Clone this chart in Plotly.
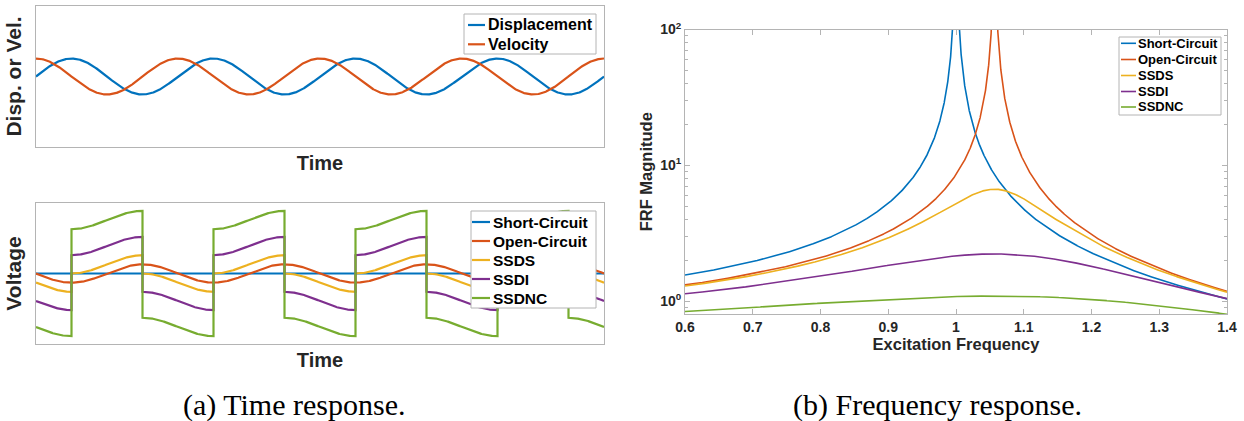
import numpy as np
import plotly.graph_objects as go

W, H = 1244, 421

# ---------------- data ----------------
motion_names = ["Displacement", "Velocity"]
motion_phase = [0.0, 0.5 * np.pi]          # displacement ~ sin, velocity ~ cos
n_cycles = 4

voltage_names = ["Short-Circuit", "Open-Circuit", "SSDS", "SSDI", "SSDNC"]
voltage_open_gain = [0.0, 1.0, 1.0, 1.0, 1.0]      # piezo voltage following displacement
voltage_switch_level = [0.0, 0.0, 1.0, 3.0, 5.84]  # square-wave step added by switching

frf_names = voltage_names
frf_coupling = 0.117
frf_stiffness_gain = [0.0, 1.0, 1.0, 1.0, 1.0]
frf_loss_gain = [0.0, 0.0, 1.27, 3.82, 7.8]
frf_base_damping = 0.001
freq_min, freq_max = 0.6, 1.4

freq_ticks = [0.6, 0.7, 0.8, 0.9, 1.0, 1.1, 1.2, 1.3, 1.4]
freq_tick_text = ["0.6", "0.7", "0.8", "0.9", "1", "1.1", "1.2", "1.3", "1.4"]
mag_ticks = [1, 10, 100]
mag_tick_text = ["10<sup>0</sup>", "10<sup>1</sup>", "10<sup>2</sup>"]
mag_minor = [0.9, 2, 3, 4, 5, 6, 7, 8, 9, 20, 30, 40, 50, 60, 70, 80, 90]

captions = ["(a) Time response.", "(b) Frequency response."]

# ---------------- styles ----------------
colors = ["#0072BD", "#D95319", "#EDB120", "#7E2F8E", "#77AC30"]
frame = "#b4b4b4"
txt = "#262626"
SANS = "Liberation Sans"
SERIF = "Liberation Serif"

fig = go.Figure()

# ---- (a) top: displacement / velocity ----
t_end = 2 * np.pi * n_cycles
t = np.linspace(0, t_end, 2000)
for i, name in enumerate(motion_names):
    fig.add_trace(go.Scatter(x=t, y=np.sin(t + motion_phase[i]), mode="lines", name=name,
                             line=dict(color=colors[i], width=2.2), showlegend=False,
                             xaxis="x", yaxis="y"))

# ---- (a) bottom: voltages with switching at displacement extrema ----
bounds = [0.0] + list(np.pi / 2 + np.pi * np.arange(0, 2 * n_cycles)) + [t_end]
for i, name in enumerate(voltage_names):
    xs, ys = [], []
    for a, b in zip(bounds[:-1], bounds[1:]):
        seg = np.linspace(a, b, 150)
        sq = 1.0 if np.cos(0.5 * (a + b)) < 0 else -1.0
        v = -voltage_open_gain[i] * np.sin(seg) + voltage_switch_level[i] * sq
        xs.extend(seg)
        ys.extend(v)
    fig.add_trace(go.Scatter(x=xs, y=ys, mode="lines", name=name,
                             line=dict(color=colors[i], width=2.2), showlegend=False,
                             xaxis="x2", yaxis="y2"))

# ---- (b) FRF ----
w = np.linspace(freq_min, freq_max, 8001)
for i, name in enumerate(frf_names):
    den = (1 - w ** 2 + frf_coupling * frf_stiffness_gain[i]
           + 1j * (frf_coupling * frf_loss_gain[i] + frf_base_damping))
    mag = 1.0 / np.abs(den)
    fig.add_trace(go.Scatter(x=w, y=mag, mode="lines", name=name,
                             line=dict(color=colors[i], width=1.6), showlegend=False,
                             xaxis="x3", yaxis="y3"))


def px_x(v):
    return v / W


def px_y(v):
    return 1 - v / H


# ---- legends (boxed, MATLAB style) ----
shapes, annotations = [], []


def add_legend(names, box, line_x, text_x, entry_y, size, lw):
    x0, x1, y0, y1 = box
    shapes.append(dict(type="rect", xref="paper", yref="paper",
                       x0=px_x(x0), x1=px_x(x1), y0=px_y(y1), y1=px_y(y0),
                       fillcolor="white", line=dict(color=frame, width=1), layer="above"))
    for k, name in enumerate(names):
        yy = px_y(entry_y[k])
        shapes.append(dict(type="line", xref="paper", yref="paper",
                           x0=px_x(line_x[0]), x1=px_x(line_x[1]), y0=yy, y1=yy,
                           line=dict(color=colors[k], width=lw), layer="above"))
        annotations.append(dict(text=name, x=px_x(text_x), y=yy, xref="paper", yref="paper",
                                showarrow=False, xanchor="left", yanchor="middle",
                                font=dict(family=SANS, size=size, color="#000", weight="bold")))


add_legend(motion_names, (464, 596, 14, 54), (468, 485), 486, [25, 44.3], 16, 2.2)
add_legend(voltage_names, (471, 596, 211, 308), (472, 490), 491, [222, 241, 260, 279, 298], 15.5, 2.2)
add_legend(frf_names, (1119, 1221, 37, 115), (1121, 1136), 1136, [43.3, 59.5, 75.5, 91.5, 107], 13, 1.6)

annotations += [
    dict(text=captions[0], x=px_x(294), y=px_y(405), xref="paper", yref="paper",
         showarrow=False, xanchor="center", yanchor="middle",
         font=dict(family=SERIF, size=30, color="#000")),
    dict(text=captions[1], x=px_x(937), y=px_y(405), xref="paper", yref="paper",
         showarrow=False, xanchor="center", yanchor="middle",
         font=dict(family=SERIF, size=30, color="#000")),
]

plain_axis = dict(showline=True, mirror=True, linecolor=frame, linewidth=1,
                  showticklabels=False, ticks="", showgrid=False, zeroline=False,
                  automargin=False)
title_font = dict(family=SANS, size=20, color=txt, weight="bold")
ytitle_font = dict(family=SANS, size=21, color=txt, weight="bold")
frf_title_font = dict(family=SANS, size=16.5, color=txt, weight="bold")

fig.update_layout(
    width=W, height=H,
    margin=dict(l=0, r=0, t=0, b=0, autoexpand=False),
    paper_bgcolor="white", plot_bgcolor="white",
    showlegend=False,
    xaxis=dict(plain_axis, domain=[px_x(36), px_x(604)], range=[0, t_end], anchor="y",
               title=dict(text="Time", font=title_font, standoff=8)),
    yaxis=dict(plain_axis, domain=[px_y(147), px_y(6)], range=[-3.92, 3.92], anchor="x",
               title=dict(text="Disp. or Vel.", font=ytitle_font, standoff=7)),
    xaxis2=dict(plain_axis, domain=[px_x(36), px_x(604)], range=[0, t_end], anchor="y2",
                title=dict(text="Time", font=title_font, standoff=8)),
    yaxis2=dict(plain_axis, domain=[px_y(344), px_y(203)], range=[-7.7, 7.7], anchor="x2",
                title=dict(text="Voltage", font=ytitle_font, standoff=7)),
    xaxis3=dict(domain=[px_x(685), px_x(1227)], range=[freq_min, freq_max], anchor="y3",
                showline=True, mirror="ticks", linecolor=frame, linewidth=1,
                ticks="inside", ticklen=5, tickcolor=frame, automargin=False,
                tickvals=freq_ticks, ticktext=freq_tick_text,
                tickfont=dict(family=SANS, size=14, color=txt, weight="bold"),
                showgrid=False, zeroline=False,
                title=dict(text="Excitation Frequency", font=frf_title_font, standoff=3)),
    yaxis3=dict(domain=[px_y(314), px_y(29.5)], type="log", range=[-0.093, 2], anchor="x3",
                showline=True, mirror="ticks", linecolor=frame, linewidth=1,
                ticks="inside", ticklen=5, tickcolor=frame, automargin=False,
                tickvals=mag_ticks, ticktext=mag_tick_text,
                tickfont=dict(family=SANS, size=14, color=txt, weight="bold"),
                minor=dict(tickmode="array", tickvals=mag_minor, ticks="inside",
                           ticklen=3, tickcolor=frame),
                showgrid=False, zeroline=False,
                title=dict(text="FRF Magnitude", font=frf_title_font, standoff=3)),
    shapes=shapes,
    annotations=annotations,
)

fig.write_html("out.html")
